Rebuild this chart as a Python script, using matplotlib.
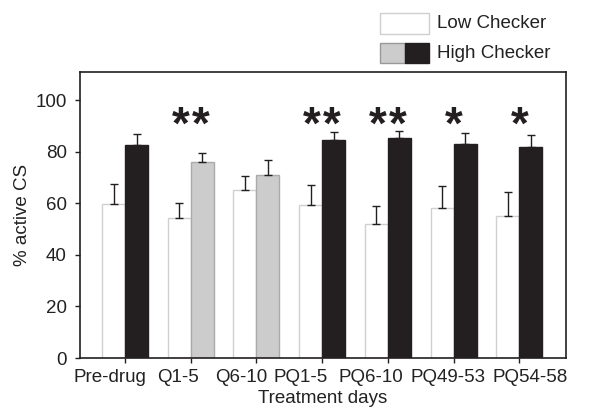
import matplotlib
matplotlib.use("Agg")
import matplotlib.pyplot as plt
from matplotlib.patches import Rectangle
from matplotlib.transforms import ScaledTranslation
import numpy as np

plt.rcParams['font.family'] = ['Liberation Sans', 'DejaVu Sans']

categories = ["Pre-drug", "Q1-5", "Q6-10", "PQ1-5", "PQ6-10", "PQ49-53", "PQ54-58"]
low_vals = [59.7, 54.2, 65.1, 59.3, 52.0, 58.1, 55.0]
low_err = [7.7, 6.1, 5.7, 7.7, 6.9, 8.6, 9.3]
high_vals = [82.6, 75.9, 71.2, 84.5, 85.3, 83.1, 81.9]
high_err = [4.2, 3.6, 5.5, 3.1, 2.7, 4.1, 4.6]
high_is_drug = [False, True, True, False, False, False, False]
stars = [0, 2, 0, 2, 2, 1, 1]

# horizontal label shifts (pixels) as laid out in the original figure
label_shift_px = [-15, -13, -15, -22, -17, -6, 11]

fig = plt.figure(figsize=(5.9, 4.2), dpi=100)
ax = fig.add_axes([0.1356, 0.1476, 0.9593 - 0.1356, 0.8286 - 0.1476])

x = np.arange(len(categories))
w = 0.35
black = "#231f20"
grey = "#cccccc"
high_colors = [grey if d else black for d in high_is_drug]
high_edges = ["#aaaaaa" if d else black for d in high_is_drug]

ax.bar(x - w / 2, low_vals, w, color="white", edgecolor="#d0d0d0", linewidth=1.0, zorder=2)
ax.bar(x + w / 2, high_vals, w, color=high_colors, edgecolor=high_edges, linewidth=1.0, zorder=2)
ax.errorbar(x - w / 2, low_vals, yerr=[np.zeros(len(x)), low_err], fmt="none",
            ecolor=black, elinewidth=1.0, capsize=3, capthick=1.0, zorder=3)
ax.errorbar(x + w / 2, high_vals, yerr=[np.zeros(len(x)), high_err], fmt="none",
            ecolor=black, elinewidth=1.0, capsize=3, capthick=1.0, zorder=3)

for xi, n in zip(x, stars):
    if n == 0:
        continue
    offsets = [0] if n == 1 else [-10, 10]
    for off in offsets:
        t = ax.text(xi, 85.0, "*", ha="center", va="baseline", fontsize=33,
                    fontweight="bold", color=black)
        t.set_transform(ax.transData + ScaledTranslation(off / 100, 0, fig.dpi_scale_trans))

ax.set_xlim(-0.685, 6.71)
ax.set_ylim(0, 111)
ax.set_yticks([0, 20, 40, 60, 80, 100])
ax.set_xticks(x)
ax.set_xticklabels(categories)
ax.tick_params(axis="both", direction="out", length=3.5, width=1.0, labelsize=13.5,
               color=black, labelcolor="#222222")
ax.tick_params(axis="x", pad=4.5)
ax.tick_params(axis="y", pad=6)
for lbl, dx in zip(ax.get_xticklabels(), label_shift_px):
    lbl.set_transform(lbl.get_transform() + ScaledTranslation(dx / 100, 0, fig.dpi_scale_trans))
for sp in ax.spines.values():
    sp.set_linewidth(1.2)
    sp.set_color(black)
ax.set_ylabel("% active CS", fontsize=13.5, color="#222222", labelpad=3.5)
ax.set_xlabel("Treatment days", fontsize=13.5, color="#222222", labelpad=3)

# legend (drawn manually in figure pixel coordinates)
def px(xp, yp):
    return xp / 590, 1 - yp / 420

x0, y0 = px(380, 34)
fig.add_artist(Rectangle((x0, y0), 49 / 590, 21 / 420, transform=fig.transFigure,
                         facecolor="white", edgecolor="#cfcfcf", linewidth=1.0))
x1, y1 = px(380, 63)
fig.add_artist(Rectangle((x1, y1), 25 / 590, 20 / 420, transform=fig.transFigure,
                         facecolor=grey, edgecolor="#999999", linewidth=1.0))
fig.add_artist(Rectangle((x1 + 25 / 590, y1), 24 / 590, 20 / 420, transform=fig.transFigure,
                         facecolor=black, edgecolor=black, linewidth=1.0))
tx, ty = px(437, 23.5)
fig.text(tx, ty, "Low Checker", fontsize=13.5, va="center", ha="left", color="#222222")
tx, ty = px(437, 53)
fig.text(tx, ty, "High Checker", fontsize=13.5, va="center", ha="left", color="#222222")

fig.savefig("out.png", dpi=100, facecolor="white")
